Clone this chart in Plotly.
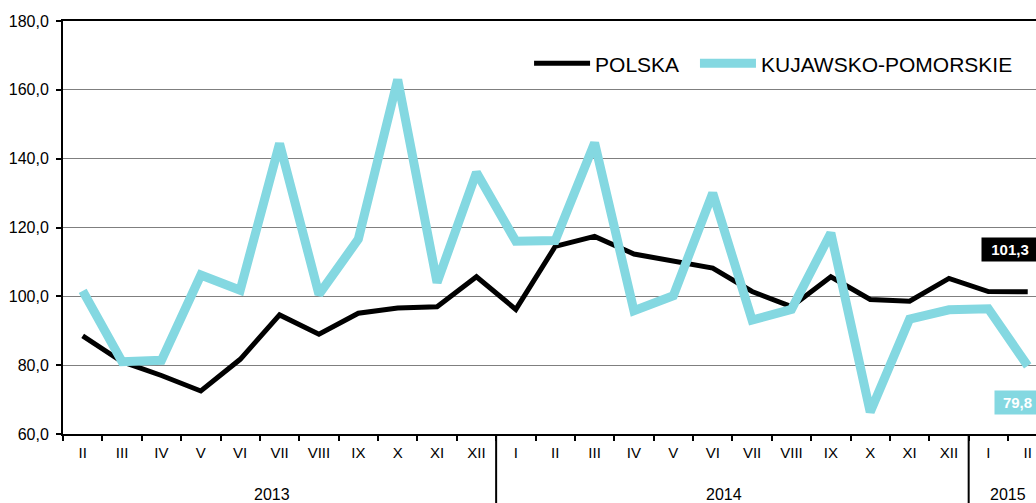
import plotly.graph_objects as go

months = ["II", "III", "IV", "V", "VI", "VII", "VIII", "IX", "X", "XI", "XII",
          "I", "II", "III", "IV", "V", "VI", "VII", "VIII", "IX", "X", "XI", "XII",
          "I", "II"]
years = ["2013"] * 11 + ["2014"] * 12 + ["2015"] * 2

polska = [88.5, 81.0, 77.0, 72.5, 81.7, 94.6, 89.0, 95.1, 96.6, 97.0, 105.7,
          96.2, 114.5, 117.4, 112.3, 110.1, 108.2, 101.4, 97.0, 105.7, 99.1, 98.6, 105.2,
          101.4, 101.3]
kujawsko = [101.6, 81.0, 81.4, 106.2, 101.8, 144.4, 100.6, 116.6, 163.0, 104.0, 136.0,
            116.0, 116.2, 144.6, 95.8, 100.2, 130.0, 93.1, 96.2, 118.4, 66.4, 93.4, 96.1,
            96.4, 79.8]

y_ticks = [60, 80, 100, 120, 140, 160, 180]
y_tick_labels = ["60,0", "80,0", "100,0", "120,0", "140,0", "160,0", "180,0"]

BLACK = "#000000"
CYAN = "#84D8E1"
FONT = "Liberation Sans, Arial, sans-serif"

idx = list(range(len(months)))
n = len(months)

fig = go.Figure()
fig.add_trace(go.Scatter(x=idx, y=polska, mode="lines", name="POLSKA",
                         line=dict(color=BLACK, width=5), legend="legend"))
fig.add_trace(go.Scatter(x=idx, y=kujawsko, mode="lines", name="KUJAWSKO-POMORSKIE",
                         line=dict(color=CYAN, width=9), legend="legend2"))
# invisible trace that activates the month-label axis
fig.add_trace(go.Scatter(x=idx, y=polska, xaxis="x2", mode="lines",
                         line=dict(width=0), showlegend=False, hoverinfo="skip", opacity=0))

# the source chart is cropped on the right, just past the last month
x_range = [-0.5, n - 0.79]
boundaries = [i - 0.5 for i in range(n + 1)]

legend_common = dict(orientation="h", yanchor="middle", xanchor="left", y=0.8967,
                     bgcolor="rgba(255,255,255,0)",
                     font=dict(size=21, family=FONT, color="#000"), itemwidth=56)

fig.update_layout(
    width=1036, height=503,
    margin=dict(l=63, r=0, t=21, b=69),
    paper_bgcolor="white", plot_bgcolor="white",
    font=dict(family=FONT, size=15, color="#000"),
    showlegend=True,
    legend=dict(x=0.479, **legend_common),
    legend2=dict(x=0.6495, **legend_common),
    xaxis=dict(range=x_range, tickmode="array", tickvals=boundaries,
               ticktext=[""] * len(boundaries), ticks="outside", ticklen=5, tickwidth=2,
               tickcolor=BLACK, showline=True, linecolor=BLACK, linewidth=2,
               mirror=True, showgrid=False, zeroline=False, showticklabels=False),
    xaxis2=dict(range=x_range, overlaying="x", anchor="y", side="bottom",
                tickmode="array", tickvals=idx, ticktext=months, ticks="",
                ticklabelstandoff=8, showgrid=False, zeroline=False, showline=False,
                tickfont=dict(size=15, family=FONT, color="#000")),
    yaxis=dict(range=[60, 180], tickmode="array", tickvals=y_ticks, ticktext=y_tick_labels,
               ticks="outside", ticklen=5, tickwidth=2, tickcolor=BLACK,
               showline=True, linecolor=BLACK, linewidth=2, ticklabelstandoff=4,
               showgrid=True, gridcolor="#7f7f7f", gridwidth=1, zeroline=False,
               tickfont=dict(size=16, family=FONT, color="#000")),
)

# white box behind legend hiding gridline
fig.add_shape(type="rect", xref="paper", yref="paper", x0=0.4615, x1=0.999, y0=0.80, y1=0.95,
              fillcolor="white", line=dict(width=0), layer="between")

# year dividers and labels
year_names = []
for y in years:
    if y not in year_names:
        year_names.append(y)
for k, yname in enumerate(year_names):
    members = [i for i, yy in enumerate(years) if yy == yname]
    first, last = members[0], members[-1]
    if k > 0:
        fig.add_shape(type="line", xref="x", yref="paper", x0=first - 0.5, x1=first - 0.5,
                      y0=0, y1=-0.2, line=dict(color=BLACK, width=2), layer="above")
    center = (first + last) / 2
    fig.add_annotation(x=center, y=-0.146, xref="x", yref="paper", text=yname,
                       showarrow=False, yanchor="middle", xshift=-8 if yname != "2015" else 0,
                       font=dict(size=16, family=FONT, color="#000"))

# end-value labels
fig.add_annotation(x=idx[-1], xref="x", y=113.7, yref="y",
                   text="<b>%s</b>" % f"{polska[-1]:.1f}".replace(".", ","),
                   showarrow=False, xanchor="center", yanchor="middle", bgcolor=BLACK, xshift=-18,
                   font=dict(color="white", size=15, family=FONT), width=50, borderpad=3)
fig.add_annotation(x=idx[-1], xref="x", y=69.1, yref="y",
                   text="<b>%s</b>" % f"{kujawsko[-1]:.1f}".replace(".", ","),
                   showarrow=False, xanchor="center", yanchor="middle", bgcolor=CYAN, xshift=-10,
                   font=dict(color="white", size=15, family=FONT), width=39, borderpad=3)

fig.write_html("out.html", config={"displayModeBar": False},
               post_script="document.body.style.margin='0';document.body.style.overflow='hidden';")
